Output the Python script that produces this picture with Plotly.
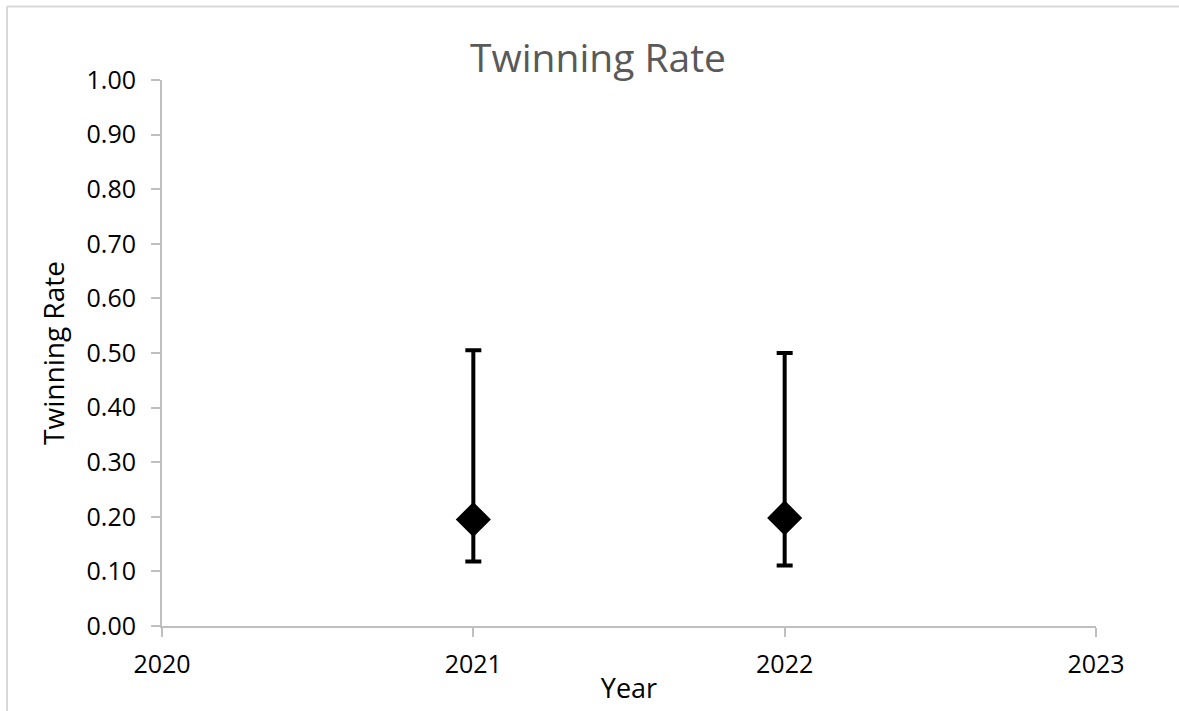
import plotly.graph_objects as go

# Twinning rate by year with confidence limits
years = [2021, 2022]
rate = [0.195, 0.198]
upper = [0.505, 0.500]
lower = [0.118, 0.111]

x_ticks = [2020, 2021, 2022, 2023]

err_plus = [u - r for u, r in zip(upper, rate)]
err_minus = [r - l for r, l in zip(rate, lower)]

font_family = "'Open Sans', 'Noto Sans', sans-serif"

W, H = 1179, 711
L, R, T, B = 162, 83, 80, 82
plot_w = W - L - R
plot_h = H - T - B


def px_x(p):
    return (p - L) / plot_w


def px_y(p):
    return (T + plot_h - p) / plot_h


border = dict(color="#d9d9d9", width=2)

fig = go.Figure(
    go.Scatter(
        x=years,
        y=rate,
        mode="markers",
        marker=dict(symbol="diamond", size=27, color="black"),
        error_y=dict(
            type="data",
            symmetric=False,
            array=err_plus,
            arrayminus=err_minus,
            thickness=4,
            width=8,
            color="black",
        ),
        showlegend=False,
    )
)

fig.update_layout(
    width=W,
    height=H,
    margin=dict(l=L, r=R, t=T, b=B),
    paper_bgcolor="white",
    plot_bgcolor="white",
    font=dict(family=font_family, color="black"),
    title=dict(
        text="Twinning Rate",
        x=598 / W,
        xref="container",
        xanchor="center",
        y=1 - 58 / H,
        yref="container",
        yanchor="middle",
        font=dict(size=39, color="#595959", family=font_family),
    ),
    shapes=[
        # chart frame: top edge
        dict(type="line", xref="paper", yref="paper",
             x0=px_x(7), x1=px_x(W + 20), y0=px_y(6), y1=px_y(6),
             line=border, layer="below"),
        # chart frame: left edge
        dict(type="line", xref="paper", yref="paper",
             x0=px_x(7), x1=px_x(7), y0=px_y(6), y1=px_y(H + 20),
             line=border, layer="below"),
    ],
)

fig.update_xaxes(
    range=[2020, 2023],
    tickvals=x_ticks,
    ticktext=[str(t) for t in x_ticks],
    showgrid=False,
    zeroline=False,
    showline=True,
    linecolor="#bfbfbf",
    linewidth=2,
    ticks="outside",
    ticklen=9,
    tickwidth=2,
    tickcolor="#bfbfbf",
    ticklabelstandoff=6,
    tickfont=dict(size=25, color="black"),
    title=dict(text="Year", font=dict(size=27, color="black"), standoff=0),
)

fig.update_yaxes(
    range=[0, 1],
    dtick=0.1,
    tickformat=".2f",
    showgrid=False,
    zeroline=False,
    showline=True,
    linecolor="#bfbfbf",
    linewidth=2,
    ticks="outside",
    ticklen=9,
    tickwidth=2,
    tickcolor="#bfbfbf",
    ticklabelstandoff=10,
    tickfont=dict(size=25, color="black"),
    title=dict(text="Twinning Rate", font=dict(size=28, color="black"), standoff=14),
)

fig.write_html("out.html")
